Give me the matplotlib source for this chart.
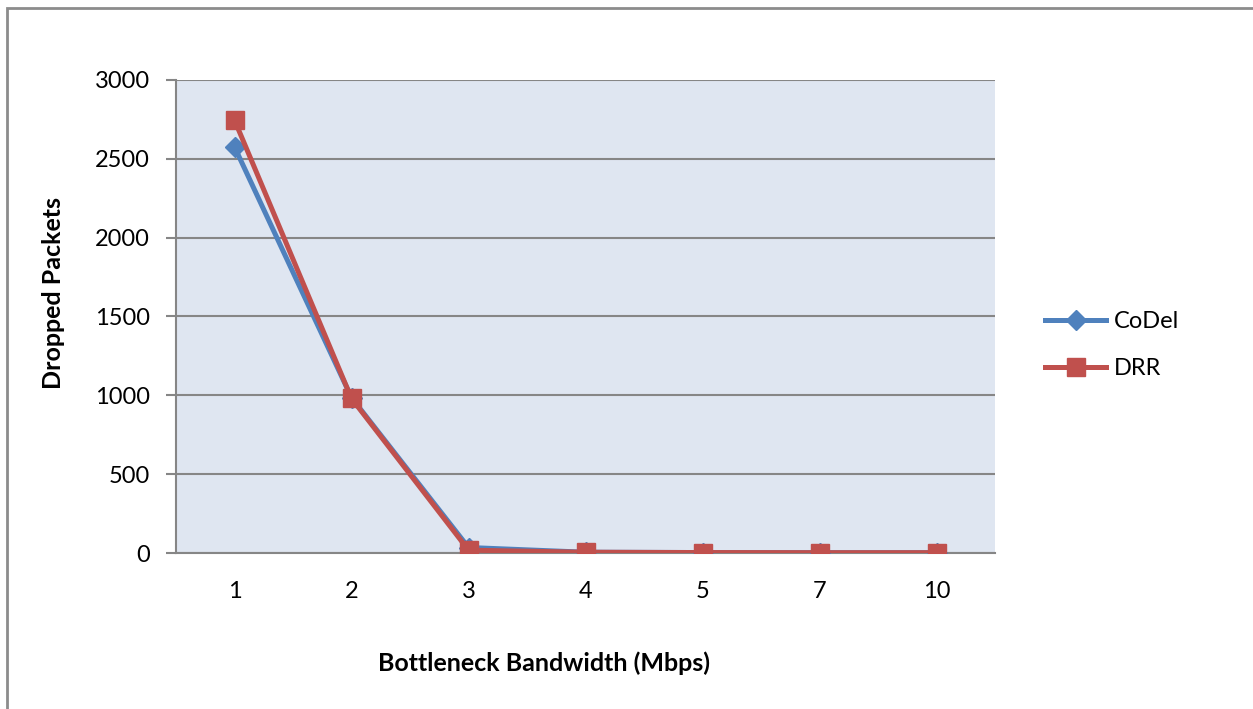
import matplotlib.pyplot as plt
from matplotlib.patches import Rectangle

# dropped packets per bottleneck bandwidth
bandwidth = ['1', '2', '3', '4', '5', '7', '10']
codel = [2575, 985, 35, 5, 3, 2, 2]
drr = [2745, 980, 18, 5, 3, 2, 2]

plt.rcParams['font.family'] = ['Lato', 'DejaVu Sans']

fig = plt.figure(figsize=(12.53, 7.09), dpi=100)
ax = fig.add_axes([0.1405, 0.22, 0.6536, 0.6672])

# outer chart frame
fig.patches.append(Rectangle((7 / 1253, -0.1), 1.2, 1 - 8 / 709 + 0.1, transform=fig.transFigure,
                             fill=False, edgecolor='#8c8c8c', linewidth=2))

x = range(len(bandwidth))
ax.plot(x, codel, color='#4f81bd', linewidth=3.6, marker='D', markersize=10,
        label='CoDel', zorder=3)
ax.plot(x, drr, color='#c0504d', linewidth=3.6, marker='s', markersize=13,
        label='DRR', zorder=4)

ax.set_facecolor('#dfe6f1')
ax.set_xlim(-0.5, len(bandwidth) - 0.5)
ax.set_ylim(0, 3000)
ax.set_yticks(range(0, 3001, 500))
ax.set_xticks(list(x))
ax.set_xticklabels(bandwidth)
ax.yaxis.grid(True, color='#868686', linewidth=1.5)
ax.set_axisbelow(True)

for s in ['top', 'right']:
    ax.spines[s].set_visible(False)
ax.spines['left'].set_color('#868686')
ax.spines['left'].set_linewidth(1.5)
ax.spines['bottom'].set_color('#868686')
ax.spines['bottom'].set_linewidth(1.5)

ax.tick_params(axis='y', length=7, width=1.5, color='#868686', pad=12, labelsize=17)
ax.tick_params(axis='x', length=0, pad=20, labelsize=17)

ax.set_ylabel('Dropped Packets', fontsize=18, fontweight='bold')
ax.set_xlabel('Bottleneck Bandwidth (Mbps)', fontsize=18, fontweight='bold')
ax.yaxis.set_label_coords(-0.135, 0.55)
ax.xaxis.set_label_coords(0.449, -0.207)

ax.legend(loc='center left', bbox_to_anchor=(1.035, 0.44), frameon=False, fontsize=17,
          handlelength=2.6, handletextpad=0.3, labelspacing=1.1)

fig.savefig('out.png', dpi=100)
